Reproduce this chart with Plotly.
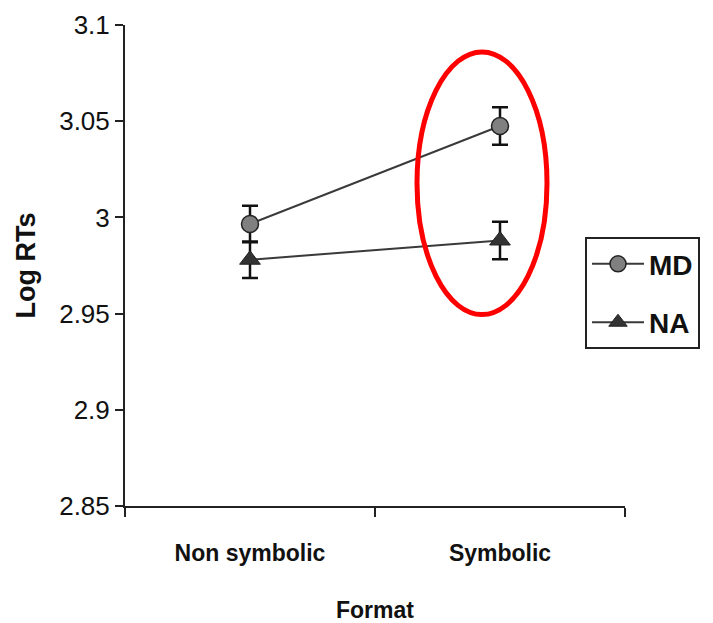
import plotly.graph_objects as go

categories = ["Non symbolic", "Symbolic"]
md_values = [2.9966, 3.0475]
md_err = [0.0095, 0.0098]
na_values = [2.978, 2.988]
na_err = [0.0095, 0.0098]
y_ticks = [2.85, 2.9, 2.95, 3.0, 3.05, 3.1]
y_tick_labels = ["2.85", "2.9", "2.95", "3", "3.05", "3.1"]

fam = "Liberation Sans, Arial"

fig = go.Figure()
fig.add_trace(go.Scatter(
    x=categories, y=md_values, name="MD", mode="lines+markers",
    line=dict(color="#3a3a3a", width=2),
    marker=dict(symbol="circle", size=17, color="#808080", line=dict(color="#222222", width=1.5)),
    error_y=dict(type="data", array=md_err, visible=True, color="#111111", thickness=2.5, width=8),
    legendgroup="md",
))
fig.add_trace(go.Scatter(
    x=categories, y=na_values, name="NA", mode="lines+markers",
    line=dict(color="#3a3a3a", width=2),
    marker=dict(symbol="triangle-up", size=18, color="#333333", line=dict(color="#222222", width=1)),
    error_y=dict(type="data", array=na_err, visible=True, color="#111111", thickness=2.5, width=8),
    legendgroup="na",
))

fig.add_shape(type="circle", xref="paper", yref="paper",
              x0=0.584, x1=0.844, y0=0.398, y1=0.944,
              line=dict(color="#ff0000", width=5))

fig.update_layout(
    width=713, height=623,
    margin=dict(l=125, r=88, t=25, b=117),
    paper_bgcolor="white", plot_bgcolor="white",
    showlegend=True,
    legend=dict(
        x=0.92, y=0.559, xanchor="left", yanchor="top",
        bordercolor="#222222", borderwidth=2, bgcolor="white",
        font=dict(family=fam, size=28, color="#111111", weight="bold"),
        tracegroupgap=19, itemwidth=52,
    ),
    xaxis=dict(
        type="category", range=[-0.5, 1.5], tickson="boundaries", automargin=False,
        showline=True, linecolor="#222222", linewidth=2,
        ticks="outside", ticklen=9, tickwidth=2, tickcolor="#222222",
        showgrid=False, zeroline=False, ticklabelstandoff=25,
        tickfont=dict(family=fam, size=23, color="#111111", weight="bold"),
        title=dict(text="Format", font=dict(family=fam, size=23, color="#111111", weight="bold"), standoff=37),
    ),
    yaxis=dict(
        range=[2.85, 3.1], tickvals=y_ticks, ticktext=y_tick_labels, automargin=False,
        showline=True, linecolor="#222222", linewidth=2,
        ticks="outside", ticklen=8, tickwidth=2, tickcolor="#222222",
        showgrid=False, zeroline=False,
        tickfont=dict(family=fam, size=26, color="#111111"),
        title=dict(text="Log RTs", font=dict(family=fam, size=27, color="#111111", weight="bold"), standoff=16),
    ),
)

fig.write_html("out.html")
